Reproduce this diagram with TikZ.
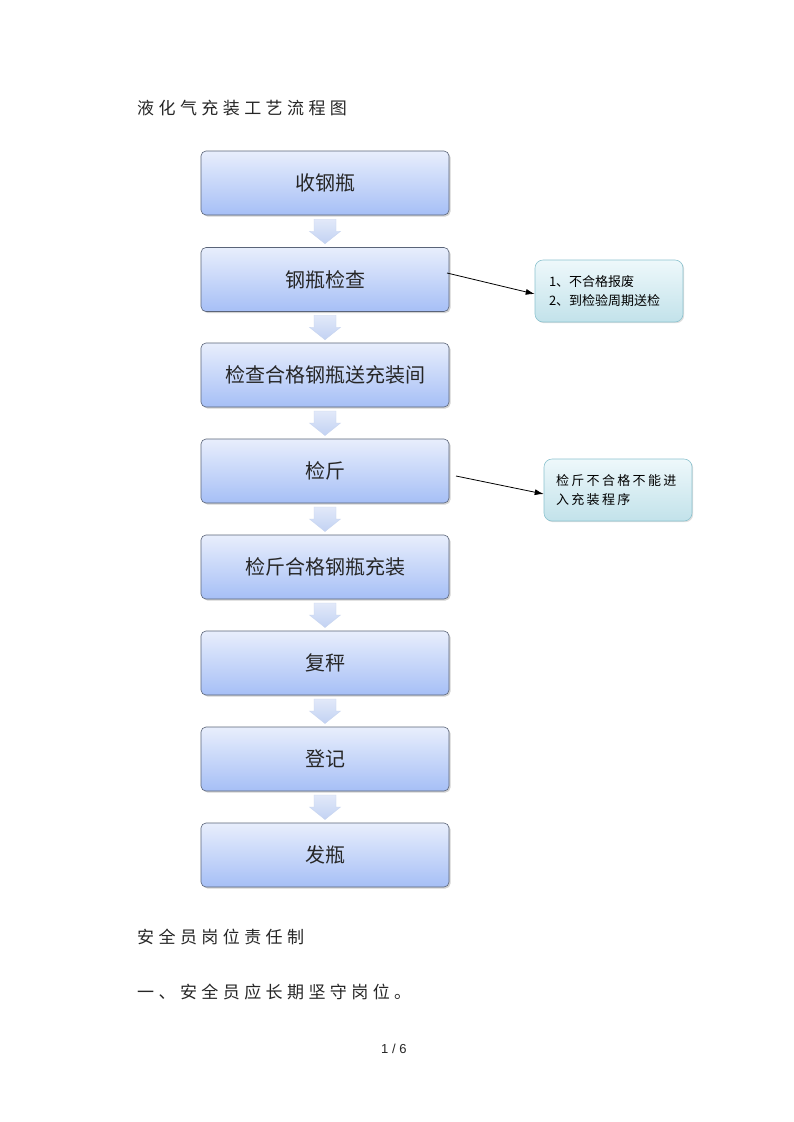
\documentclass[tikz,border=0pt]{standalone}
\usepackage{fontspec}
\newfontfamily\cjk{Noto Sans CJK SC}
\newfontfamily\cjks[LetterSpace=26]{Noto Sans CJK SC}
\newfontfamily\cjkm[LetterSpace=18]{Noto Sans CJK SC}
\newfontfamily\pgfont{Liberation Sans}
\usetikzlibrary{arrows.meta,shadows}
\definecolor{boxtop}{HTML}{E8EEFC}
\definecolor{boxbot}{HTML}{A6BFF6}
\definecolor{boxline}{HTML}{5A6478}
\definecolor{notetop}{HTML}{EEF8FB}
\definecolor{notebot}{HTML}{C2E2EA}
\definecolor{noteline}{HTML}{8CC3CF}
\definecolor{arrtop}{HTML}{E2E9F9}
\definecolor{arrbot}{HTML}{C2D2F3}
\definecolor{arrline}{HTML}{C8D5EF}
\begin{document}
\begin{tikzpicture}[x=1pt,y=-1pt,
  stepbox/.style={draw=boxline, line width=0.6pt, rounded corners=5pt, minimum width=248pt, minimum height=64pt,
    top color=boxtop, bottom color=boxbot, drop shadow={shadow xshift=1.5pt, shadow yshift=-1.5pt, opacity=0.35},
    font=\cjk\fontsize{20}{24}\selectfont, text=black!85},
  notebox/.style={draw=noteline, line width=0.6pt, rounded corners=8pt, minimum width=148pt, minimum height=62pt,
    top color=notetop, bottom color=notebot, drop shadow={shadow xshift=1.2pt, shadow yshift=-1.2pt, opacity=0.25},
    font=\cjk\fontsize{13}{19}\selectfont, align=left, text=black},
  downarr/.style={draw=arrline, line width=0.4pt, top color=arrtop, bottom color=arrbot},
  link/.style={-{Latex[length=9pt,width=6pt]}, line width=0.8pt, black},
  txt/.style={anchor=west, inner sep=0pt, text=black!85}]
\useasboundingbox (0,0) rectangle (793,1122);
\fill[white] (0,0) rectangle (793,1122);

\node[txt, font=\cjks\fontsize{17}{20}\selectfont] (title) at (137,108) {液化气充装工艺流程图};

\node[stepbox] (b1) at (325,183) {收钢瓶};
\node[stepbox] (b2) at (325,279.5) {钢瓶检查};
\node[stepbox] (b3) at (325,375) {检查合格钢瓶送充装间};
\node[stepbox] (b4) at (325,471) {检斤};
\node[stepbox] (b5) at (325,567) {检斤合格钢瓶充装};
\node[stepbox] (b6) at (325,663) {复秤};
\node[stepbox] (b7) at (325,759) {登记};
\node[stepbox] (b8) at (325,855) {发瓶};

\foreach \a/\b in {b1/b2,b2/b3,b3/b4,b4/b5,b5/b6,b6/b7,b7/b8}{
  \path (\a.south) -- (\b.north) coordinate[midway] (m-\a);
  \path[downarr] ([shift={(-11,-12)}]m-\a) -- ([shift={(11,-12)}]m-\a) -- ([shift={(11,0)}]m-\a)
     -- ([shift={(15.5,0)}]m-\a) -- ([shift={(0,12.5)}]m-\a) -- ([shift={(-15.5,0)}]m-\a)
     -- ([shift={(-11,0)}]m-\a) -- cycle;
}

\node[notebox, text width=120pt] (n1) at (609,291) {1、不合格报废\\2、到检验周期送检};
\node[notebox, text width=124pt, font=\cjkm\fontsize{13}{19}\selectfont] (n2) at (618,490) {检斤不合格不能进\\入充装程序};

\coordinate (s1) at (447,273);
\coordinate (s2) at (456,476);
\draw[link] (s1) -- (n1.west |- 0,294);
\draw[link] (s2) -- (n2.west |- 0,494);

\node[txt, font=\cjks\fontsize{17}{20}\selectfont] (h1) at (137,937) {安全员岗位责任制};
\node[txt, font=\cjks\fontsize{17}{20}\selectfont] (h2) at (137,992) {一、安全员应长期坚守岗位。};
\node[txt, font=\pgfont\fontsize{13}{16}\selectfont] (pg) at (381,1049) {1 / 6};
\end{tikzpicture}
\end{document}
